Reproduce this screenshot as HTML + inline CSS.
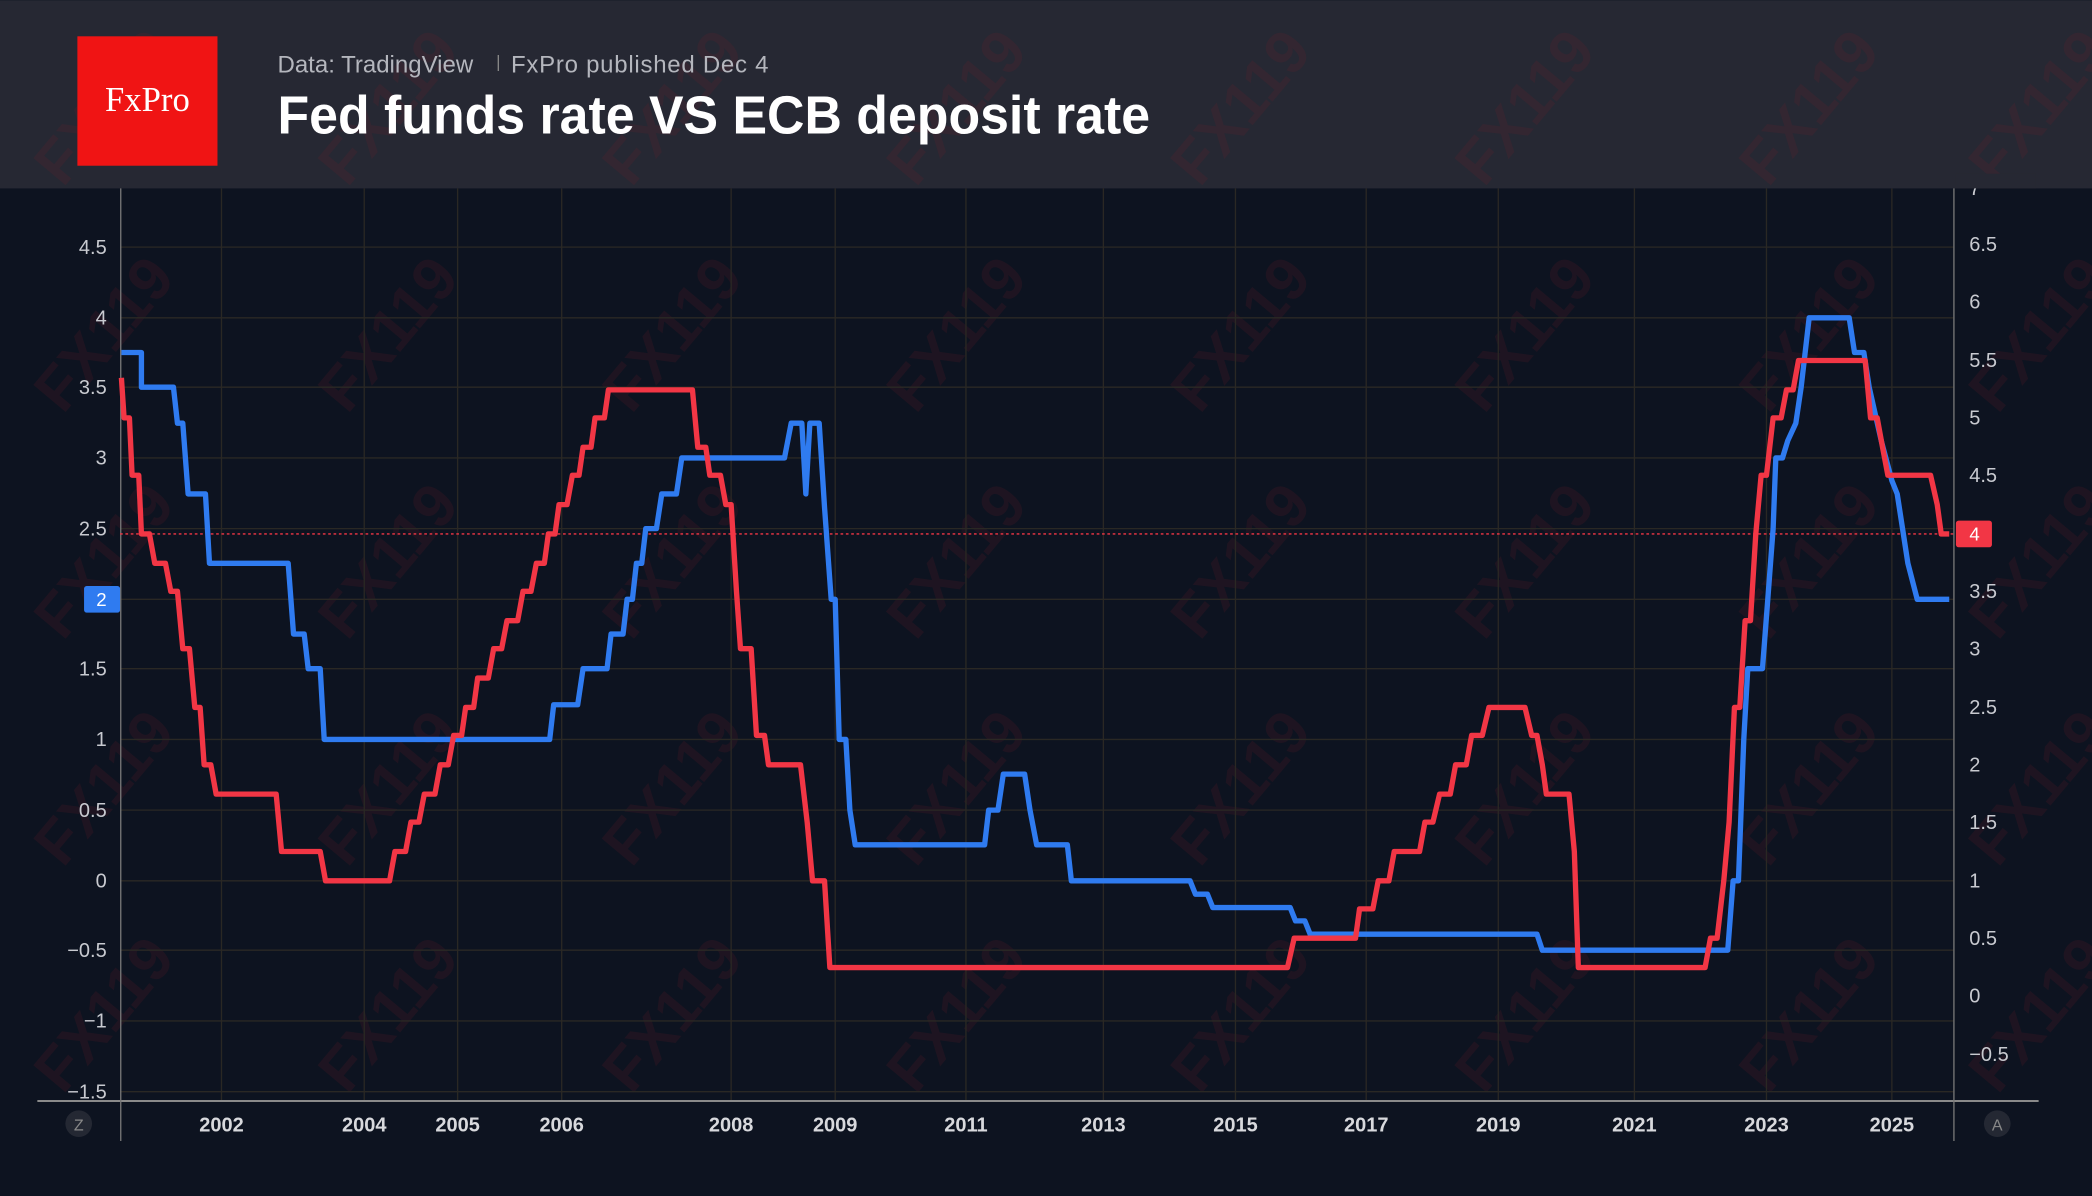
<!DOCTYPE html>
<html><head><meta charset="utf-8"><style>
html,body{margin:0;padding:0;background:#0d1320;width:2092px;height:1196px;overflow:hidden;}
svg{display:block}
</style></head><body>
<svg width="2092" height="1196" viewBox="0 0 1568 896" xmlns="http://www.w3.org/2000/svg" font-family="Liberation Sans, sans-serif" overflow="hidden">
<rect width="1568" height="896" fill="#0d1320"/>
<rect width="1568" height="141" fill="#262833"/>
<g font-size="46" font-weight="bold" fill="#7a1e2c" fill-opacity="0.16">
<g id="wr">
<text transform="translate(90,90) rotate(-50)" text-anchor="middle">FX119</text>
<text transform="translate(303,90) rotate(-50)" text-anchor="middle">FX119</text>
<text transform="translate(516,90) rotate(-50)" text-anchor="middle">FX119</text>
<text transform="translate(729,90) rotate(-50)" text-anchor="middle">FX119</text>
<text transform="translate(942,90) rotate(-50)" text-anchor="middle">FX119</text>
<text transform="translate(1155,90) rotate(-50)" text-anchor="middle">FX119</text>
<text transform="translate(1368,90) rotate(-50)" text-anchor="middle">FX119</text>
<text transform="translate(1540,90) rotate(-50)" text-anchor="middle">FX119</text>
</g>
<use href="#wr" y="170"/><use href="#wr" y="340"/><use href="#wr" y="510"/><use href="#wr" y="680"/>
</g>
<rect x="58" y="27" width="105" height="97" fill="#f01414"/>
<text x="110.5" y="83" text-anchor="middle" fill="#fff" font-family="Liberation Serif, serif" font-size="26">FxPro</text>
<text x="208" y="54" fill="#b4b6bd" font-size="18">Data: TradingView</text>
<rect x="373" y="41" width="1" height="12" fill="#888"/>
<text x="383" y="54" fill="#b4b6bd" font-size="18" textLength="193">FxPro published Dec 4</text>
<text x="208" y="100" fill="#fff" font-size="40" font-weight="bold" textLength="654" lengthAdjust="spacingAndGlyphs">Fed funds rate VS ECB deposit rate</text>
<g stroke="#2a2824" stroke-width="1">
<line x1="90" x2="1464" y1="185" y2="185"/><line x1="90" x2="1464" y1="238" y2="238"/><line x1="90" x2="1464" y1="290" y2="290"/><line x1="90" x2="1464" y1="343" y2="343"/><line x1="90" x2="1464" y1="396" y2="396"/><line x1="90" x2="1464" y1="449" y2="449"/><line x1="90" x2="1464" y1="501" y2="501"/><line x1="90" x2="1464" y1="554" y2="554"/><line x1="90" x2="1464" y1="607" y2="607"/><line x1="90" x2="1464" y1="660" y2="660"/><line x1="90" x2="1464" y1="712" y2="712"/><line x1="90" x2="1464" y1="765" y2="765"/><line x1="90" x2="1464" y1="818" y2="818"/>
<line x1="166" x2="166" y1="141" y2="825"/><line x1="273" x2="273" y1="141" y2="825"/><line x1="343" x2="343" y1="141" y2="825"/><line x1="421" x2="421" y1="141" y2="825"/><line x1="548" x2="548" y1="141" y2="825"/><line x1="626" x2="626" y1="141" y2="825"/><line x1="724" x2="724" y1="141" y2="825"/><line x1="827" x2="827" y1="141" y2="825"/><line x1="926" x2="926" y1="141" y2="825"/><line x1="1024" x2="1024" y1="141" y2="825"/><line x1="1123" x2="1123" y1="141" y2="825"/><line x1="1225" x2="1225" y1="141" y2="825"/><line x1="1324" x2="1324" y1="141" y2="825"/><line x1="1418" x2="1418" y1="141" y2="825"/>
</g>
<line x1="28" x2="1528" y1="825" y2="825" stroke="#8a8a8a" stroke-width="1.5"/>
<line x1="90.5" x2="90.5" y1="141" y2="855" stroke="#777" stroke-width="1"/>
<line x1="1464.5" x2="1464.5" y1="141" y2="855" stroke="#777" stroke-width="1"/>
<line x1="90" x2="1464" y1="400" y2="400" stroke="#f23645" stroke-width="1" stroke-dasharray="2,2"/>
<g fill="#c8cad0" font-size="15" text-anchor="end">
<text x="80" y="190">4.5</text><text x="80" y="243">4</text><text x="80" y="295">3.5</text><text x="80" y="348">3</text><text x="80" y="401">2.5</text><text x="80" y="506">1.5</text><text x="80" y="559">1</text><text x="80" y="612">0.5</text><text x="80" y="665">0</text><text x="80" y="717">−0.5</text><text x="80" y="770">−1</text><text x="80" y="823">−1.5</text>
</g>
<g fill="#c8cad0" font-size="15">
<text x="1476" y="146">7</text>
<text x="1476" y="188">6.5</text><text x="1476" y="231">6</text><text x="1476" y="275">5.5</text><text x="1476" y="318">5</text><text x="1476" y="361">4.5</text><text x="1476" y="448">3.5</text><text x="1476" y="491">3</text><text x="1476" y="535">2.5</text><text x="1476" y="578">2</text><text x="1476" y="621">1.5</text><text x="1476" y="665">1</text><text x="1476" y="708">0.5</text><text x="1476" y="751">0</text><text x="1476" y="795">−0.5</text>
</g>
<rect x="1466" y="130" width="60" height="11" fill="#262833"/>
<g fill="#d8d9dd" font-size="15" font-weight="bold" text-anchor="middle">
<text x="166" y="848">2002</text><text x="273" y="848">2004</text><text x="343" y="848">2005</text><text x="421" y="848">2006</text><text x="548" y="848">2008</text><text x="626" y="848">2009</text><text x="724" y="848">2011</text><text x="827" y="848">2013</text><text x="926" y="848">2015</text><text x="1024" y="848">2017</text><text x="1123" y="848">2019</text><text x="1225" y="848">2021</text><text x="1324" y="848">2023</text><text x="1418" y="848">2025</text>
</g>
<circle cx="59" cy="842" r="10" fill="#242833"/><text x="59" y="847" text-anchor="middle" font-size="12" fill="#888">Z</text>
<circle cx="1497" cy="842" r="10" fill="#242833"/><text x="1497" y="847" text-anchor="middle" font-size="12" fill="#888">A</text>
<polyline fill="none" stroke="#2f7bf0" stroke-width="4" stroke-linejoin="round" points="91,264 106,264 106,290 130,290 133,317 137,317 141,370 154,370 157,422 216,422 220,475 228,475 231,501 240,501 243,554 412,554 415,528 433,528 437,501 455,501 458,475 467,475 470,449 474,449 477,422 481,422 484,396 492,396 496,370 507,370 511,343 588,343 593,317 601,317 604,370 607,317 614,317 618,380 623,449 626,449 629,554 634,554 637,607 641,633 738,633 741,607 748,607 752,580 768,580 772,607 777,633 800,633 803,660 892,660 896,670 905,670 909,680 967,680 971,690 978,690 982,700 1152,700 1156,712 1295,712 1299,660 1303,660 1307,554 1310,501 1321,501 1325,449 1329,396 1331,343 1336,343 1340,330 1346,317 1350,290 1356,238 1386,238 1390,264 1397,264 1401,290 1410,330 1418,360 1422,370 1430,422 1437,449 1461,449"/>
<polyline fill="none" stroke="#f23645" stroke-width="4" stroke-linejoin="round" points="91,283 93,313 97,313 99,356 104,356 106,400 112,400 116,422 124,422 128,443 133,443 137,486 142,486 146,530 150,530 153,573 158,573 162,595 207,595 211,638 240,638 244,660 292,660 296,638 304,638 308,616 314,616 318,595 326,595 330,573 336,573 340,551 346,551 349,530 355,530 358,508 366,508 370,486 376,486 380,465 388,465 392,443 398,443 402,422 408,422 411,400 416,400 419,378 425,378 429,356 434,356 437,335 443,335 446,313 453,313 456,292 519,292 523,335 529,335 532,356 540,356 544,378 548,378 552,443 555,486 563,486 567,551 573,551 576,573 600,573 605,616 609,660 618,660 622,725 965,725 970,703 1016,703 1019,681 1029,681 1033,660 1041,660 1045,638 1064,638 1068,616 1074,616 1079,595 1087,595 1091,573 1099,573 1103,551 1111,551 1116,530 1143,530 1148,551 1152,551 1156,573 1159,595 1176,595 1180,638 1183,725 1278,725 1282,703 1287,703 1292,660 1296,616 1300,530 1304,530 1308,465 1312,465 1316,400 1320,356 1324,356 1329,313 1335,313 1339,292 1344,292 1348,270 1398,270 1402,313 1407,313 1411,335 1415,356 1447,356 1452,378 1455,400 1461,400"/>
<rect x="63" y="439" width="27" height="20" rx="2" fill="#2f7bf0"/><text x="76" y="454" text-anchor="middle" fill="#fff" font-size="14">2</text>
<rect x="1466" y="390" width="27" height="20" rx="2" fill="#f23645"/><text x="1480" y="405" text-anchor="middle" fill="#fff" font-size="14">4</text>
</svg>
</body></html>
